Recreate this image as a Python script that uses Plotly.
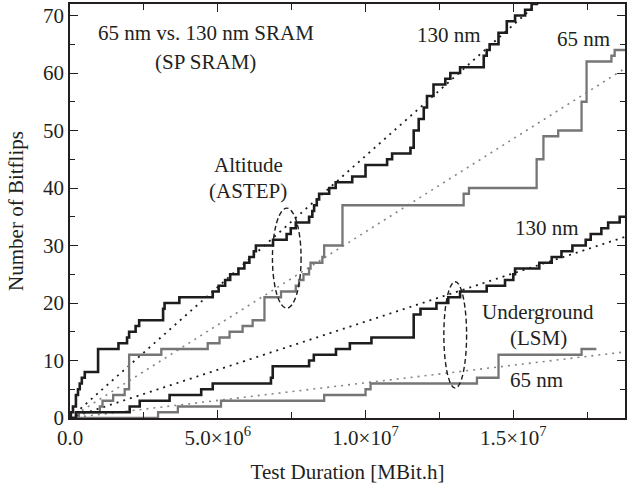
import plotly.graph_objects as go

M = 1e6          # durations below are given in millions of MBit.h
X_END = 18.78    # right end of the duration axis (millions)

# Cumulative bitflip counts: step positions (millions of MBit.h) and the count reached there.
alt130_x = [0, 0.03, 0.1, 0.2, 0.27, 0.33, 0.4, 0.5, 0.95, 1.64, 1.93, 2.0, 2.22, 2.34,
            3.15, 3.2, 3.7, 4.83, 5.03, 5.25, 5.42, 5.7, 5.9, 6.07, 6.22, 6.29, 6.87,
            7.33, 7.47, 7.64, 8.09, 8.2, 8.26, 8.35, 8.43, 8.77, 8.99, 9.55, 10.0,
            10.73, 10.9, 11.52, 11.63, 11.8, 11.97, 12.08, 12.3, 12.7, 12.87, 13.2,
            14.0, 14.1, 14.2, 14.5, 14.78, 15.06, 15.4, 15.62, 15.8]
alt130_n = [0, 1, 2, 4, 5, 6, 7, 8, 12, 13, 14, 15, 16, 17,
            19, 20, 21, 22, 23, 24, 25, 26, 27, 28, 29, 30, 31,
            32, 33, 34, 35, 36, 37, 38, 39, 40, 41, 42, 44,
            45, 46, 47, 50, 52, 54, 56, 58, 59, 60, 61,
            63, 64, 65, 67, 69, 70, 71, 72, 73]

alt65_x = [0, 0.3, 1.01, 1.1, 1.46, 1.85, 2.0, 3.09, 4.66, 5.06, 5.4, 5.84, 6.18, 6.58,
           7.14, 7.64, 7.75, 7.9, 8.09, 8.14, 8.54, 8.6, 9.22, 13.32, 13.5, 15.79,
           16.02, 16.52, 17.31, 17.48, 18.32, 18.43]
alt65_n = [0, 1, 2, 3, 4, 5, 11, 12, 13, 14, 15, 16, 17, 21,
           22, 23, 24, 25, 26, 27, 28, 30, 37, 39, 40, 45,
           49, 50, 55, 62, 63, 64]

ug130_x = [0, 0.2, 2.02, 2.36, 3.37, 4.44, 4.83, 6.8, 6.86, 8.09, 8.25, 9.0, 9.47,
           10.2, 11.63, 11.86, 12.4, 12.8, 13.2, 14.1, 14.72, 15.0, 15.06, 15.88,
           16.3, 16.63, 17.0, 17.45, 17.62, 17.98, 18.21, 18.6]
ug130_n = [0, 1, 2, 3, 4, 5, 6, 7, 9, 10, 11, 12, 13,
           14, 18, 19, 20, 21, 22, 23, 24, 25, 26, 27,
           28, 29, 30, 31, 32, 33, 34, 35]

ug65_x = [0, 2.98, 3.65, 5.11, 8.6, 10.0, 10.17, 13.77, 14.5, 17.31]
ug65_n = [0, 1, 2, 3, 4, 5, 6, 7, 11, 12]
ug65_end = 17.81

# Linear fits: value at the origin and at the right end of the axis.
fit_x = [0, X_END]
alt130_fit = [0, 85.6]
alt65_fit = [0, 60.8]
ug130_fit = [0, 31.5]
ug65_fit = [0, 11.5]

x_ticks = [0, 5e6, 1e7, 1.5e7]
x_ticktext = ["0.0", "5.0×10<sup>6</sup>", "1.0×10<sup>7</sup>", "1.5×10<sup>7</sup>"]

BLACK = "#1e1c1c"
GRAY = "#767676"
DOT_GRAY = "#858585"
TEXT = "#231f20"
FONT = "Liberation Serif"

fig = go.Figure()


def fit_line(vals, color, width):
    fig.add_trace(go.Scatter(
        x=[v * M for v in fit_x], y=vals, mode="lines",
        line=dict(color=color, width=width, dash="2px,5px"),
        hoverinfo="skip"))


def step_line(xs, ns, x_end, color, width):
    fig.add_trace(go.Scatter(
        x=[v * M for v in xs] + [x_end * M], y=ns + [ns[-1]], mode="lines",
        line=dict(color=color, width=width, shape="hv")))


fit_line(alt130_fit, BLACK, 1.8)
fit_line(alt65_fit, DOT_GRAY, 1.6)
fit_line(ug130_fit, BLACK, 1.8)
fit_line(ug65_fit, DOT_GRAY, 1.6)

step_line(alt65_x, alt65_n, X_END, GRAY, 2.3)
step_line(ug65_x, ug65_n, ug65_end, GRAY, 2.3)
step_line(alt130_x, alt130_n, X_END, BLACK, 2.6)
step_line(ug130_x, ug130_n, X_END, BLACK, 2.6)

# Dashed ellipses grouping the 65 nm / 130 nm pair of each site
ellipses = [
    (6.85, 7.82, 19.1, 36.5),
    (12.65, 13.42, 5.2, 23.7),
]
for x0, x1, y0, y1 in ellipses:
    fig.add_shape(type="circle", xref="x", yref="y",
                  x0=x0 * M, x1=x1 * M, y0=y0, y1=y1,
                  line=dict(color=BLACK, width=1.4, dash="5px,3px"))

labels = [
    ("65 nm vs. 130 nm SRAM", 206, 33),
    ("(SP SRAM)", 206, 62),
    ("130 nm", 450, 35),
    ("65 nm", 585, 39),
    ("Altitude", 249, 165),
    ("(ASTEP)", 249, 191),
    ("130 nm", 549, 228),
    ("Underground", 540, 312),
    ("(LSM)", 540, 338),
    ("65 nm", 538, 380),
]
W, H = 628, 484
for text, px, py in labels:
    fig.add_annotation(text=text, xref="paper", yref="paper",
                       x=(px - 70) / (W - 71), y=(418 - py) / (418 - 4),
                       xanchor="center", yanchor="middle", showarrow=False,
                       font=dict(family=FONT, size=21, color=TEXT))

axis_common = dict(
    showline=True, linecolor=TEXT, linewidth=1.5, mirror="ticks",
    ticks="inside", tickcolor=TEXT, tickwidth=1.3, ticklen=8,
    showgrid=False, zeroline=False,
    tickfont=dict(family=FONT, size=21, color=TEXT),
)

fig.update_layout(
    width=W, height=H,
    margin=dict(l=70, r=1, t=4, b=66),
    paper_bgcolor="white", plot_bgcolor="white",
    showlegend=False,
    xaxis=dict(
        range=[0, X_END * M], tickvals=x_ticks, ticktext=x_ticktext,
        minor=dict(dtick=2.5e6, ticks="inside", ticklen=6, tickcolor=TEXT, tickwidth=1.2),
        title=dict(text="Test Duration [MBit.h]", standoff=16,
                   font=dict(family=FONT, size=21, color=TEXT)),
        **axis_common),
    yaxis=dict(
        range=[0, 72], tick0=0, dtick=10,
        minor=dict(dtick=5, ticks="inside", ticklen=5, tickcolor=TEXT, tickwidth=1.2),
        title=dict(text="Number of Bitflips", standoff=14,
                   font=dict(family=FONT, size=21, color=TEXT)),
        **axis_common),
)

fig.write_html("out.html")
